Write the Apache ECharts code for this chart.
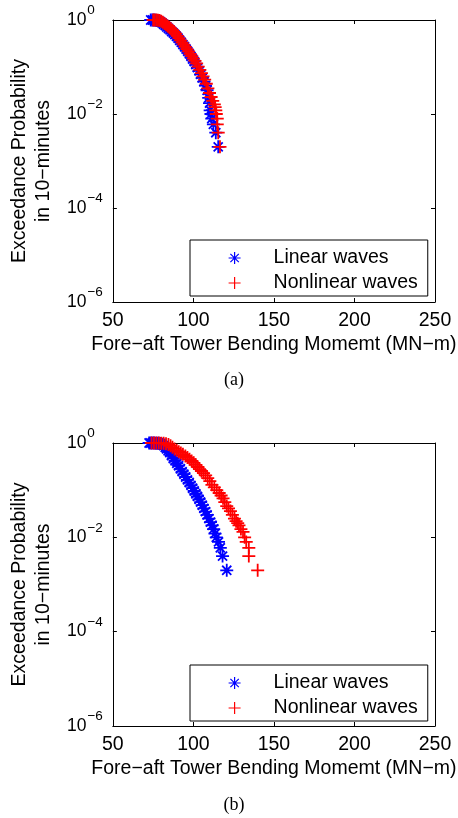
<!DOCTYPE html>
<html>
<head>
<meta charset="utf-8">
<title>Exceedance probability</title>
<script src="https://cdn.jsdelivr.net/npm/echarts@6/dist/echarts.min.js"></script>
<style>
html, body { margin: 0; padding: 0; background: #fff; }
#main { width: 458px; height: 818px; }
</style>
</head>
<body>
<div id="main"></div>
<script>

// (a) linear waves
var linearA_m = [73.5, 74.5, 75.5, 76.5, 77.5, 78.5, 79.5, 80.5, 81.5, 82.5, 83.5, 84.5, 85.5, 86.5, 87.5, 88.5, 89.5, 90.5, 91.5, 92.5, 93.5, 94.5, 95.5, 96.5, 97.5, 98.5, 99.5, 100.5, 101.5, 102.5, 103.5, 104.5, 105.5, 106.5, 107.5, 108.5, 109.5, 110, 110.4, 110.9, 111.4, 112.4, 113.9, 115.4];
var linearA_p = [1.0, 0.998, 0.995, 0.988, 0.975, 0.955, 0.92, 0.87, 0.81, 0.76, 0.71, 0.66, 0.615, 0.57, 0.53, 0.49, 0.45, 0.41, 0.37, 0.335, 0.3, 0.27, 0.24, 0.215, 0.19, 0.168, 0.148, 0.13, 0.113, 0.097, 0.083, 0.07, 0.059, 0.049, 0.04, 0.032, 0.022, 0.017, 0.012, 0.01, 0.008, 0.006, 0.004, 0.002];

// (a) nonlinear waves
var nonlinearA_m = [75, 76, 77, 78, 79, 80, 81, 82, 83, 84, 85, 86, 87, 88, 89, 90, 91, 92, 93, 94, 95, 96, 97, 98, 99, 100, 101, 102, 103, 104, 105, 106, 107, 108, 109, 110, 111, 112, 113, 113.5, 113.9, 114.2, 114.8, 114.8, 115.4, 116.5];
var nonlinearA_p = [1.0, 0.998, 0.994, 0.985, 0.97, 0.94, 0.9, 0.84, 0.79, 0.745, 0.7, 0.65, 0.605, 0.56, 0.515, 0.46, 0.41, 0.37, 0.33, 0.298, 0.267, 0.24, 0.214, 0.19, 0.17, 0.15, 0.135, 0.119, 0.102, 0.087, 0.074, 0.063, 0.054, 0.044, 0.035, 0.028, 0.023, 0.019, 0.016, 0.014, 0.012, 0.01, 0.008, 0.006, 0.004, 0.002];

// (b) linear waves
var linearB_m = [72.5, 73.5, 74.5, 75.5, 76.5, 77.5, 78.5, 79.5, 80.5, 81.5, 82.5, 83.3, 84.3, 85.3, 86.4, 87.5, 88.6, 89.7, 90.8, 91.9, 93, 94.1, 95.2, 96.3, 97.4, 98.5, 99.5, 100.5, 101.5, 102.5, 103.5, 104.5, 105.5, 106.5, 107.5, 108.5, 109.6, 110.6, 111.6, 112.6, 113.4, 114.2, 115.6, 116.7, 118.1, 120.7];
var linearB_p = [1.0, 0.999, 0.998, 0.996, 0.993, 0.989, 0.983, 0.975, 0.94, 0.88, 0.81, 0.75, 0.68, 0.63, 0.54, 0.47, 0.42, 0.37, 0.33, 0.284, 0.248, 0.218, 0.19, 0.165, 0.145, 0.126, 0.11, 0.096, 0.084, 0.074, 0.064, 0.056, 0.048, 0.041, 0.035, 0.03, 0.025, 0.021, 0.018, 0.015, 0.012, 0.01, 0.008, 0.006, 0.004, 0.002];

// (b) nonlinear waves
var nonlinearB_m = [74, 75.5, 77, 78.5, 80, 81.5, 83, 84.5, 85.8, 87, 88.3, 89.6, 90.9, 92.2, 93.5, 95, 96.3, 97.6, 98.9, 100.2, 101.5, 102.7, 103.8, 105, 106.3, 107.6, 108.9, 110.2, 111.5, 113, 114.5, 116, 117.2, 118.4, 119.5, 120.7, 121.8, 123, 124.2, 125.5, 126.5, 127.5, 128.3, 129.5, 130.8, 131.8, 132.8, 134.4, 134.4, 139.9];
var nonlinearB_p = [1.0, 0.999, 0.997, 0.994, 0.99, 0.982, 0.968, 0.93, 0.87, 0.81, 0.75, 0.7, 0.655, 0.615, 0.575, 0.53, 0.49, 0.455, 0.415, 0.38, 0.345, 0.31, 0.28, 0.255, 0.23, 0.205, 0.18, 0.155, 0.13, 0.115, 0.1, 0.087, 0.077, 0.067, 0.056, 0.046, 0.041, 0.036, 0.03, 0.025, 0.022, 0.02, 0.018, 0.015, 0.013, 0.01, 0.008, 0.006, 0.004, 0.002];

var seriesNames = ['Linear waves', 'Nonlinear waves'];
var panelLabels = ['(a)', '(b)'];
var xName = 'Fore\u2212aft Tower Bending Momemt (MN\u2212m)';
var yName = 'Exceedance Probability\nin 10\u2212minutes';

var FONT = 'Liberation Sans, Arial, Helvetica, sans-serif';
var SERIF = '18px "Liberation Serif", "Times New Roman", serif';
var STAR = 'path://M5,0L5,10M0,5L10,5M1.5,1.5L8.5,8.5M8.5,1.5L1.5,8.5';
var PLUS = 'path://M5,0L5,10M0,5L10,5';

function toPairs(ms, ps) {
	var out = [];
	for (var i = 0; i < ms.length; i++) {
		out.push([ms[i], ps[i]]);
	}
	return out;
}

//简单的深拷贝合并
function merge(target, src) {
	for (var k in src) {
		var v = src[k];
		if (v && typeof v === 'object' && !Array.isArray(v)) {
			target[k] = merge(target[k] && typeof target[k] === 'object' ? target[k] : {}, v);
		} else {
			target[k] = v;
		}
	}
	return target;
}

//10^k 标签, 指数为0时右边补空
function powLabel(v) {
	var e = Math.round(Math.log(v) / Math.LN10);
	if (e === 0) {
		return '{b|10}{z|0}';
	}
	return '{b|10}{e|\u2212' + (-e) + '}';
}

function makeXAxes(gi) {
	var base = {
		gridIndex : gi,
		type : 'value',
		min : 50,
		max : 250,
		interval : 50,
		axisLine : { onZero : false, lineStyle : { color : '#000', width : 1 } },
		axisTick : { inside : true, length : 4, lineStyle : { color : '#000' } },
		splitLine : { show : false }
	};
	var bottom = merge(merge({}, base), {
		position : 'bottom',
		axisLabel : { color : '#000', fontSize : 19.5, fontFamily : FONT, margin : 9 },
		name : xName,
		nameLocation : 'middle',
		nameGap : 33,
		nameTextStyle : { color : '#000', fontSize : 19.5, fontFamily : FONT }
	});
	var top = merge(merge({}, base), {
		position : 'top',
		axisLabel : { show : false }
	});
	return [bottom, top];
}

function makeYAxes(gi) {
	var base = {
		gridIndex : gi,
		type : 'log',
		logBase : 10,
		min : 1e-6,
		max : 1,
		interval : 2,
		axisLine : { onZero : false, lineStyle : { color : '#000', width : 1 } },
		axisTick : { inside : true, length : 4, lineStyle : { color : '#000' } },
		minorTick : { show : false },
		splitLine : { show : false }
	};
	var left = merge(merge({}, base), {
		position : 'left',
		axisLabel : {
			margin : 10,
			formatter : powLabel,
			rich : {
				b : { color : '#000', fontSize : 17.5, fontFamily : FONT },
				e : { color : '#000', fontSize : 13.5, fontFamily : FONT, padding : [0, 0, 19, 1] },
				z : { color : '#000', fontSize : 13.5, fontFamily : FONT, padding : [0, 8, 19, 1] }
			}
		},
		name : yName,
		nameLocation : 'middle',
		nameRotate : 90,
		nameGap : 51,
		nameTextStyle : { color : '#000', fontSize : 19.5, fontFamily : FONT, lineHeight : 24 }
	});
	var right = merge(merge({}, base), {
		position : 'right',
		axisLabel : { show : false }
	});
	return [left, right];
}

function makeSeries(name, symbol, color, data, gi, z) {
	return {
		name : name,
		type : 'scatter',
		xAxisIndex : gi * 2,
		yAxisIndex : gi * 2,
		symbol : symbol,
		symbolSize : 13,
		itemStyle : { color : 'rgba(0,0,0,0)', borderColor : color, borderWidth : 1.8, opacity : 1 },
		emphasis : { disabled : true },
		z : z,
		data : data
	};
}

function makeLegend(top) {
	return {
		orient : 'vertical',
		left : 190,
		top : top,
		padding : [8, 10, 3, 38],
		itemGap : 5,
		itemWidth : 12,
		itemHeight : 12,
		backgroundColor : '#fff',
		borderColor : '#000',
		borderWidth : 1,
		itemStyle : { borderWidth : 1.2 },
		formatter : function(name) {
			return '{t|' + name + '}';
		},
		textStyle : {
			color : '#000', fontSize : 19.5, fontFamily : FONT,
			rich : { t : { color : '#000', fontSize : 19.5, fontFamily : FONT, padding : [0, 0, 0, 28] } }
		},
		data : seriesNames
	};
}

var myChart = echarts.init(document.getElementById('main'), null, { renderer : 'canvas' });

var option = {
	backgroundColor : '#fff',
	animation : false,
	grid : [
		{ left : 105, top : 20, width : 330, height : 282 },
		{ left : 105, top : 443, width : 330, height : 283 }
	],
	xAxis : makeXAxes(0).concat(makeXAxes(1)),
	yAxis : makeYAxes(0).concat(makeYAxes(1)),
	legend : [ makeLegend(240), makeLegend(665) ],
	graphic : [
		{ type : 'text', x : 234, y : 380, style : { text : panelLabels[0], textAlign : 'center', textVerticalAlign : 'middle', font : SERIF, fill : '#000' } },
		{ type : 'text', x : 234, y : 805, style : { text : panelLabels[1], textAlign : 'center', textVerticalAlign : 'middle', font : SERIF, fill : '#000' } }
	],
	series : [
		makeSeries(seriesNames[0], STAR, '#0000ff', toPairs(linearA_m, linearA_p), 0, 2),
		makeSeries(seriesNames[1], PLUS, '#ff0000', toPairs(nonlinearA_m, nonlinearA_p), 0, 3),
		makeSeries(seriesNames[0], STAR, '#0000ff', toPairs(linearB_m, linearB_p), 1, 2),
		makeSeries(seriesNames[1], PLUS, '#ff0000', toPairs(nonlinearB_m, nonlinearB_p), 1, 3)
	]
};

myChart.setOption(option);
</script>
</body>
</html>
